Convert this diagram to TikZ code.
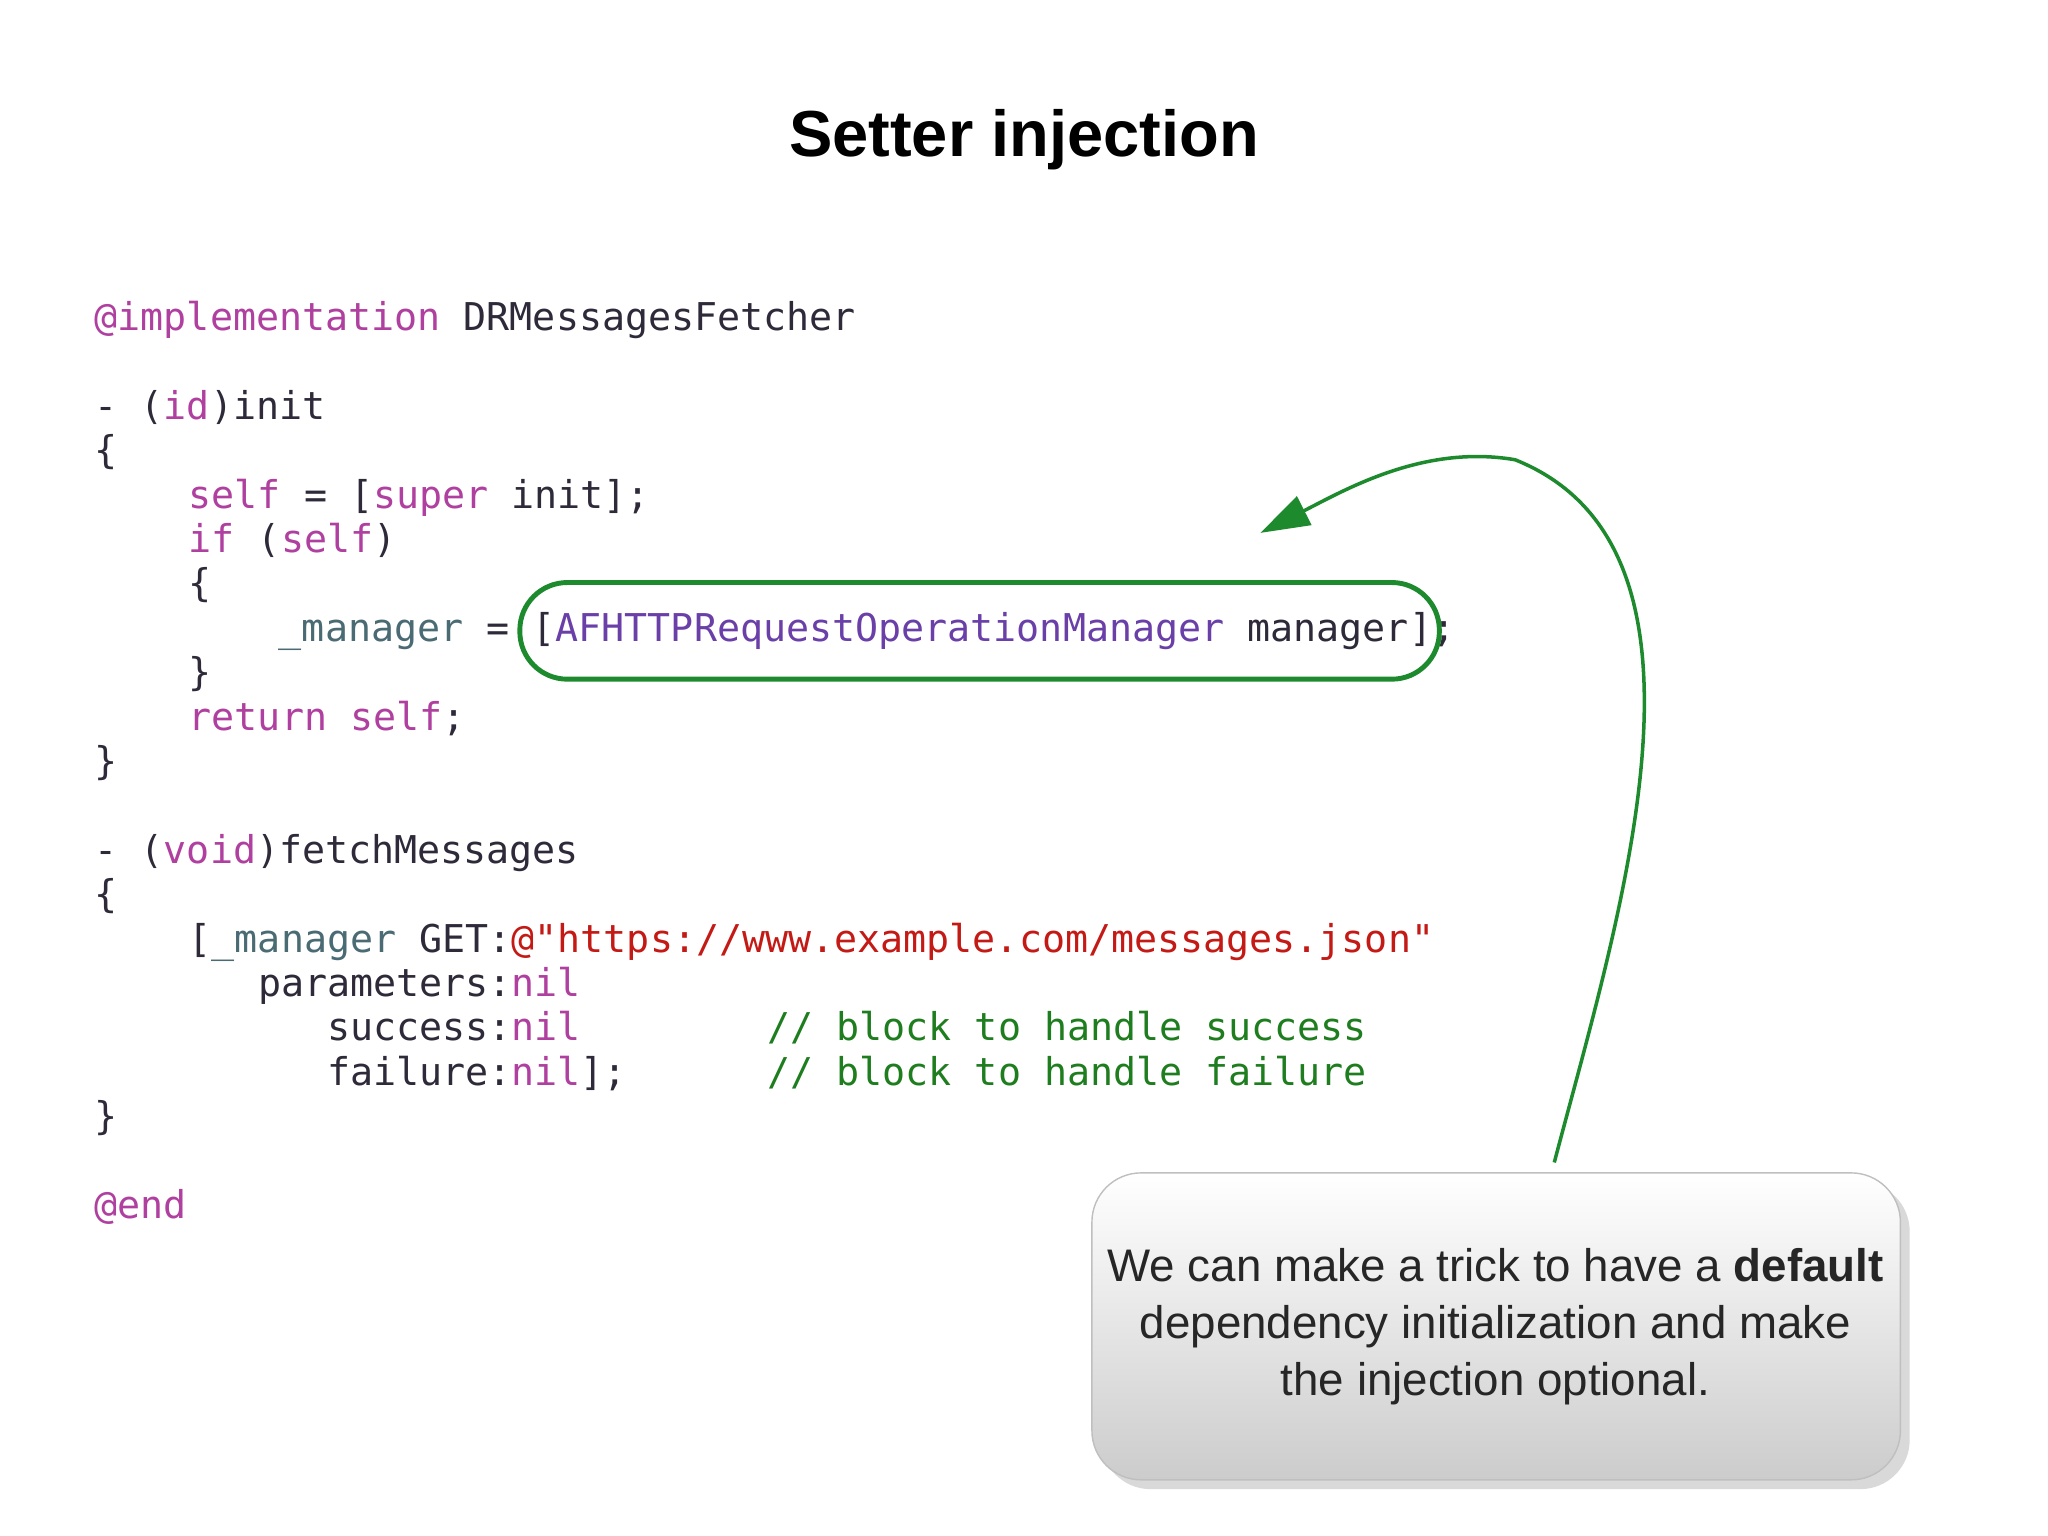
\documentclass[tikz,border=0pt]{standalone}
\usepackage{fontspec}
\setmainfont{Liberation Sans}
\setmonofont{DejaVu Sans Mono}
\usetikzlibrary{shadows,arrows.meta}
\definecolor{kw}{HTML}{B0409F}
\definecolor{cls}{HTML}{6A3FA8}
\definecolor{dk}{HTML}{2E2A3A}
\definecolor{str}{HTML}{C41A16}
\definecolor{cmt}{HTML}{1E7D1E}
\definecolor{ivar}{HTML}{4A6A74}
\definecolor{grn}{HTML}{1E8A2E}
\newcommand{\K}[1]{\textcolor{kw}{#1}}
\newcommand{\C}[1]{\textcolor{cls}{#1}}
\newcommand{\D}[1]{\textcolor{dk}{#1}}
\newcommand{\Sx}[1]{\textcolor{str}{#1}}
\newcommand{\Cm}[1]{\textcolor{cmt}{#1}}
\newcommand{\V}[1]{\textcolor{ivar}{#1}}
\begin{document}
\begin{tikzpicture}[x=0.013061cm,y=-0.013061cm,
  code/.style={anchor=base west,inner sep=0pt,font=\ttfamily\fontsize{10.9}{12}\selectfont,text=dk},
  greenline/.style={draw=grn,line width=1.4pt}]
\useasboundingbox (0,0) rectangle (1568,1176);
\node[anchor=base,font=\bfseries\fontsize{18.5}{22}\selectfont] (title) at (784,120) {Setter injection};
\node[code] (l1) at (72,253) {\K{@implementation} DRMessagesFetcher};
\node[code] (l2) at (72,321) {- (\K{id})init};
\node[code] (l3) at (72,355) {\{};
\node[code] (l4) at (144,389) {\K{self} = [\K{super} init];};
\node[code] (l5) at (144,423) {\K{if} (\K{self})};
\node[code] (l6) at (144,457) {\{};
\node[code] (l7) at (213,491) {\V{\_manager} = [\C{AFHTTPRequestOperationManager} manager];};
\node[code] (l8) at (144,525) {\}};
\node[code] (l9) at (144,559) {\K{return} \K{self};};
\node[code] (l10) at (72,593) {\}};
\node[code] (l11) at (72,661) {- (\K{void})fetchMessages};
\node[code] (l12) at (72,695) {\{};
\node[code] (l13) at (144,729) {[\V{\_manager} GET:\Sx{@"https://www.example.com/messages.json"}};
\node[code] (l14) at (197,763) {parameters:\K{nil}};
\node[code] (l15) at (250,797) {success:\K{nil}};
\node[code] (l16) at (250,831) {failure:\K{nil}];};
\node[code] (c1) at (587,797) {\Cm{// block to handle success}};
\node[code] (c2) at (587,831) {\Cm{// block to handle failure}};
\node[code] (l17) at (72,865) {\}};
\node[code] (l18) at (72,933) {\K{@end}};
\draw[greenline,rounded corners=13.5pt] (398,446) rectangle (1102,520);
\node[draw=gray!50,rounded corners=14,top color=white,bottom color=gray!40,
  drop shadow={opacity=0.3},minimum width=619*0.013061cm,minimum height=235*0.013061cm,
  inner sep=0pt] (box) at (1145.5,1015.5) {};
\node[align=center,font=\fontsize{13}{16.2}\selectfont,text=black!85] (txt) at (1145,1016)
  {We can make a trick to have a \textbf{default}\\dependency initialization and make\\the injection optional.};
\coordinate (s) at (1190,890);
\coordinate (e) at (965,408);
\draw[draw=grn,line width=1pt,-{Triangle[length=14pt,width=9pt]}]
  (s) .. controls (1240,700) and (1330,420) .. (1160,352)
  .. controls (1090,340) and (1030,375) .. (e);
\end{tikzpicture}
\end{document}
